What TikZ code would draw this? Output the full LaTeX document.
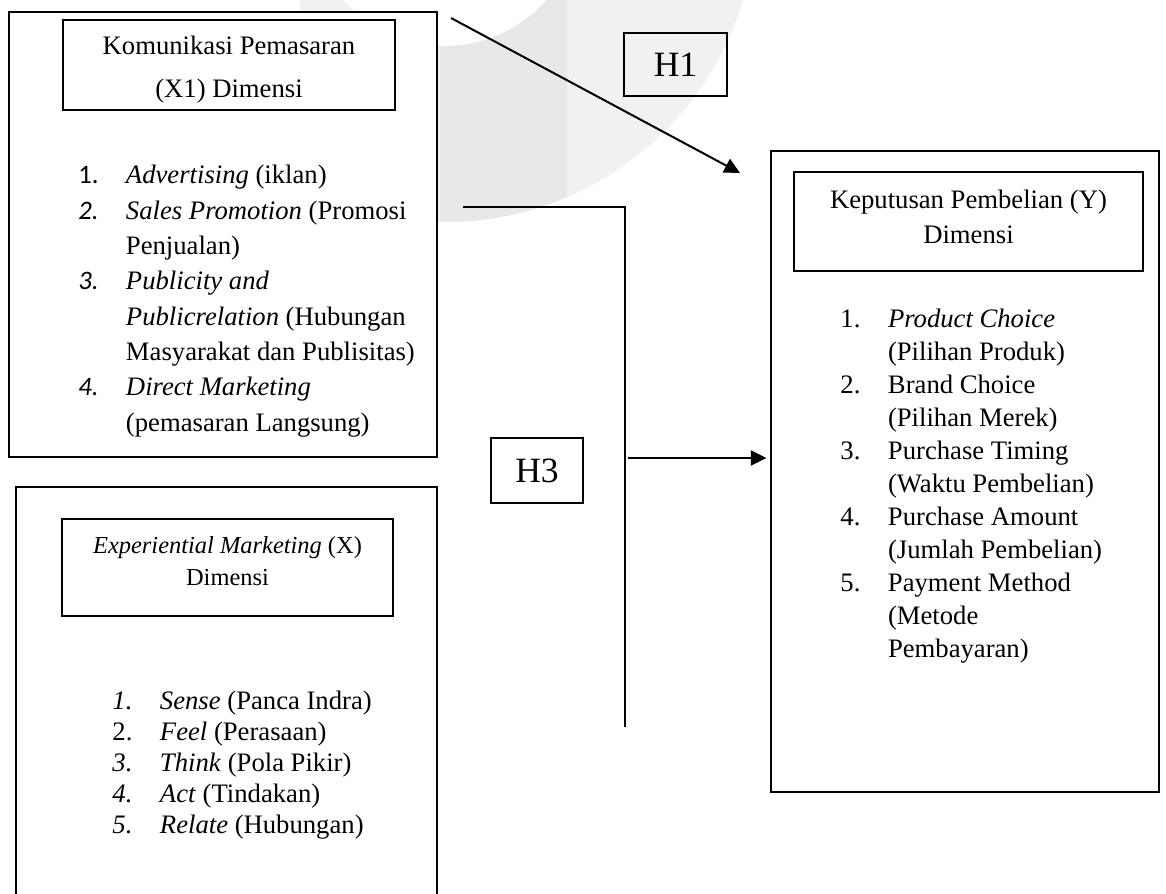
\documentclass[tikz,border=0pt]{standalone}
\usepackage{fontspec}
\setmainfont{Liberation Serif}
\newfontfamily\numfont{Carlito}
\usetikzlibrary{arrows.meta}

\definecolor{wmlight}{HTML}{F1F1F1}
\definecolor{wmdark}{HTML}{E8E8E8}
\newcommand{\listnum}[1]{\makebox[21.4pt][l]{#1}}
\newcommand{\listgap}{\hspace*{21.4pt}}

\begin{document}
\begin{tikzpicture}[x = {(0.45pt,0pt)},
	y = {(0pt,-0.45pt)},
	box/.style = {draw, line width=0.6pt, inner sep=0pt, align=center},
	dimlist/.style = {anchor=north west, inner sep=0pt, align=left},
	link/.style = {line width=0.9pt},
	tip/.style = {-{Triangle[length=7pt,width=6.8pt]}}]
	\useasboundingbox (0,0) rectangle (1166,894);
	
	% watermark
	\begin{scope}
	\clip (0,0) rectangle (1166,894);
	\begin{scope}[even odd rule]
	\clip (445,-89) circle (311) (445,-89) circle (135);
	\fill[wmlight] (300,-400) rectangle (800,300);
	\fill[wmdark] (440,-400) rectangle (567,300);
	\end{scope}
	\end{scope}
	
	% Komunikasi Pemasaran (X1)
	\node[box, fill=white, minimum width=192.6pt, minimum height=200.25pt] (kpOuter) at (223,234.5) {};
	\node[box, minimum width=149.4pt, minimum height=40.5pt] (kpTitle) at (229,65) {};
	\node[align=center, inner sep=0pt, font=\fontsize{12}{19.35}\selectfont] (kpTitleText) at (229,70)
		{Komunikasi Pemasaran\\(X1) Dimensi};
	\node[dimlist, font=\fontsize{12}{15.9}\selectfont] (kpList) at (78,165)
		{\listnum{\numfont 1.}\textit{Advertising} (iklan)\\
		\listnum{\numfont\itshape 2.}\textit{Sales Promotion} (Promosi\\
		\listgap Penjualan)\\
		\listnum{\numfont\itshape 3.}\textit{Publicity and}\\
		\listgap\textit{Publicrelation} (Hubungan\\
		\listgap Masyarakat dan Publisitas)\\
		\listnum{\numfont\itshape 4.}\textit{Direct Marketing}\\
		\listgap(pemasaran Langsung)};
	
	% Experiential Marketing (X)
	\draw[line width=0.6pt] (16,900) -- (16,487) -- (437,487) -- (437,900);
	\node[box, minimum width=149pt, minimum height=43.65pt] (emTitle) at (227.5,567.5) {};
	\node[align=center, inner sep=0pt, font=\fontsize{11}{14.4}\selectfont] (emTitleText) at (227.5,561.5)
		{\textit{Experiential Marketing} (X)\\Dimensi};
	\node[dimlist, font=\fontsize{12}{13.95}\selectfont] (emList) at (112,691)
		{\listnum{\textit{1.}}\textit{Sense} (Panca Indra)\\
		\listnum{2.}\textit{Feel} (Perasaan)\\
		\listnum{\textit{3.}}\textit{Think} (Pola Pikir)\\
		\listnum{\textit{4.}}\textit{Act} (Tindakan)\\
		\listnum{\textit{5.}}\textit{Relate} (Hubungan)};
	
	% Keputusan Pembelian (Y)
	\node[box, minimum width=174.6pt, minimum height=288.45pt] (kbOuter) at (965,471.5) {};
	\node[box, minimum width=157pt, minimum height=44.6pt] (kbTitle) at (968.5,221.5) {};
	\node[align=center, inner sep=0pt, font=\fontsize{12}{15.75}\selectfont] (kbTitleText) at (968.5,216.5)
		{Keputusan Pembelian (Y)\\Dimensi};
	\node[dimlist, font=\fontsize{12}{14.85}\selectfont] (kbList) at (840,309)
		{\listnum{1.}\textit{Product Choice}\\
		\listgap(Pilihan Produk)\\
		\listnum{2.}Brand Choice\\
		\listgap(Pilihan Merek)\\
		\listnum{3.}Purchase Timing\\
		\listgap(Waktu Pembelian)\\
		\listnum{4.}Purchase Amount\\
		\listgap(Jumlah Pembelian)\\
		\listnum{5.}Payment Method\\
		\listgap(Metode\\
		\listgap Pembayaran)};
	
	% hypotheses
	\node[box, minimum width=46.35pt, minimum height=28.35pt,
		font=\fontsize{16}{19}\selectfont] (hOne) at (675.5,64.5) {H1};
	\node[box, minimum width=41.4pt, minimum height=29.25pt,
		font=\fontsize{16}{19}\selectfont] (hThree) at (537,470.5) {H3};
	
	\coordinate (h1from) at (451,18);
	\coordinate (h1to) at (740,173);
	\draw[link, tip] (h1from) -- (h1to);
	
	\coordinate (h3from) at (463,207);
	\coordinate (h3bend) at (625,207);
	\coordinate (h3end) at (625,727);
	\draw[link] (h3from) -- (h3bend) -- (h3end);
	\coordinate (h3out) at (628,458);
	\draw[link, tip, shorten >=1.8pt] (h3out) -- (kbOuter.west |- h3out);
\end{tikzpicture}
\end{document}
